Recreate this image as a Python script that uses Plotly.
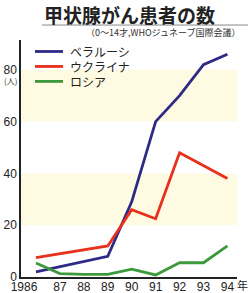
import plotly.graph_objects as go

years = [1986, 1987, 1988, 1989, 1990, 1991, 1992, 1993, 1994]
tick_labels = ["1986", "87", "88", "89", "90", "91", "92", "93", "94"]
belarus = [2, 4, 6, 8, 29, 60, 70, 82, 86]
ukraine = [7.5, 9, 10.5, 12, 26, 22.5, 48, 43, 38]
russia = [5.4, 1.3, 1, 1, 3, 0.8, 5.5, 5.5, 12]
series_names = ["ベラルーシ", "ウクライナ", "ロシア"]
colors = ["#2e2a86", "#e8301c", "#3c9a3c"]
y_ticks = [0, 20, 40, 60, 80]

FONT = "Liberation Sans, Arial, sans-serif"
JP = "Noto Sans CJK JP, sans-serif"

PLOT_H = 237.5
PLOT_W = 216.0


def py(pix):
    """pixel y (from top of figure) -> paper fraction"""
    return 1 - (pix - 40) / PLOT_H


def px(pix):
    return (pix - 21) / PLOT_W


fig = go.Figure()
for name, vals, c in zip(series_names, [belarus, ukraine, russia], colors):
    fig.add_trace(go.Scatter(x=years, y=vals, mode="lines", name=name,
                             line=dict(color=c, width=2.8), showlegend=False))

# pale bands
for y0, y1 in [(20, 40), (60, 80)]:
    fig.add_shape(type="rect", xref="x", yref="y", x0=1985.375, x1=1994.5,
                  y0=y0, y1=y1, fillcolor="#fffbe3", line_width=0, layer="below")

# manual legend
for i, (name, c) in enumerate(zip(series_names, colors)):
    yy = py(51.5 + 15 * i)
    fig.add_shape(type="line", xref="paper", yref="paper", x0=px(35), x1=px(63),
                  y0=yy, y1=yy, line=dict(color=c, width=2.8))
    fig.add_annotation(text=name, xref="paper", yref="paper", x=px(68), y=yy,
                       xanchor="left", yanchor="middle", showarrow=False,
                       font=dict(family=JP, size=12, color="#222"))

tickvals = [years[0] - 0.5] + years[1:]

fig.update_layout(
    width=250, height=293,
    margin=dict(l=21, r=13, t=40, b=15.5),
    paper_bgcolor="white", plot_bgcolor="white",
    showlegend=False,
    xaxis=dict(range=[1985.375, 1994.4], tickvals=tickvals, ticktext=tick_labels,
               showgrid=False, zeroline=False, showline=True, linecolor="#222",
               linewidth=1.5, ticks="", automargin=False, ticklabelstandoff=-2,
               tickfont=dict(family=FONT, size=12, color="#222")),
    yaxis=dict(range=[0, 91.5], tickvals=y_ticks, showgrid=False, zeroline=False,
               showline=True, linecolor="#222", linewidth=1.5, ticks="", automargin=False,
               tickfont=dict(family=FONT, size=12, color="#222")),
    font=dict(family=JP),
)

fig.add_annotation(text="<b>甲状腺がん患者の数</b>", xref="paper", yref="paper",
                   x=px(42), y=py(14), xanchor="left", yanchor="middle",
                   showarrow=False, font=dict(family=JP, size=19, color="#222"))
fig.add_annotation(text="（0〜14才,WHOジュネーブ国際会議）", xref="paper", yref="paper",
                   x=px(242), y=py(32.5), xanchor="right", yanchor="middle",
                   showarrow=False, font=dict(family=JP, size=9, color="#333"))
fig.add_shape(type="line", xref="paper", yref="paper", x0=px(42), x1=px(248),
              y0=py(25), y1=py(25), line=dict(color="#888", width=1))
fig.add_annotation(text="(人)", xref="paper", yref="paper", x=px(19), y=py(80.5),
                   xanchor="right", yanchor="middle", showarrow=False,
                   font=dict(family=JP, size=8, color="#333"))
fig.add_annotation(text="年", xref="paper", yref="paper", x=px(243), y=py(286),
                   xanchor="center", yanchor="middle", showarrow=False,
                   font=dict(family=JP, size=11, color="#222"))

fig.write_html("out.html")
